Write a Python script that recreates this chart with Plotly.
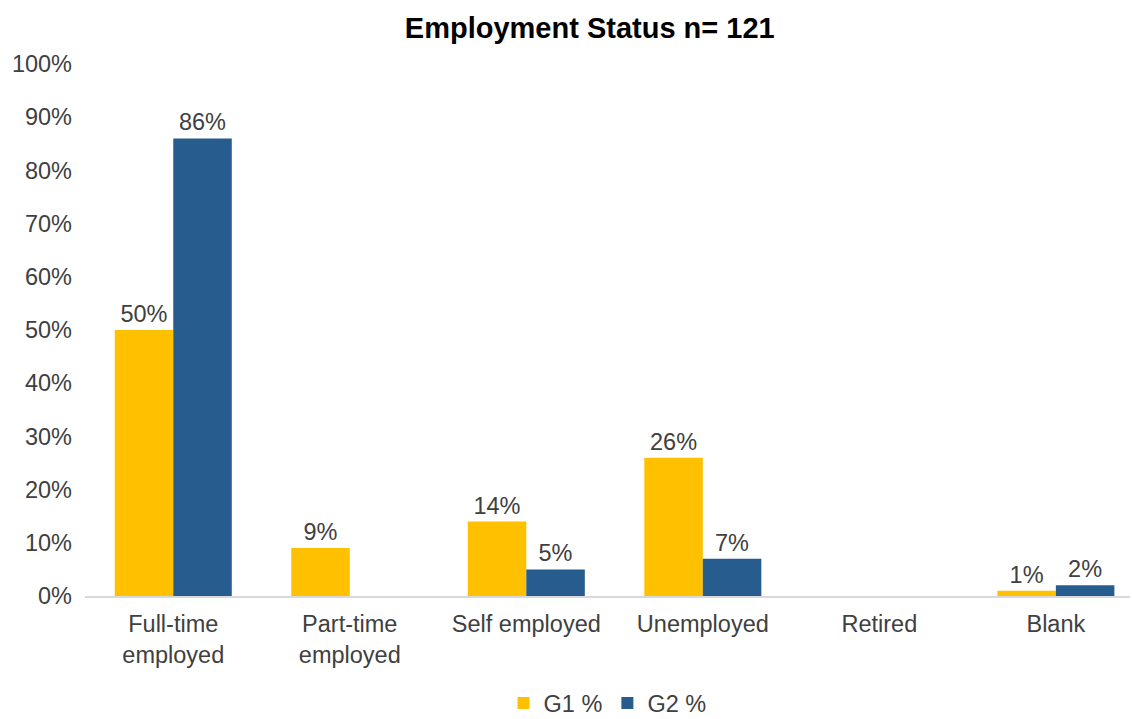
import plotly.graph_objects as go

categories = ["Full-time<br>employed", "Part-time<br>employed", "Self employed",
              "Unemployed", "Retired", "Blank"]
g1_pct = [50, 9, 14, 26, None, 1]
g2_pct = [86, None, 5, 7, None, 2]

y_ticks = list(range(0, 101, 10))
# pad with figure spaces so the right-aligned labels line up on the left
y_ticktext = [("\u2007" * (3 - len(str(v)))) + f"{v}%" for v in y_ticks]

FONT = "Liberation Sans, Arial, sans-serif"
TEXT_GREY = "#404040"
FS = 23.5


def pct_labels(values):
    return ["" if v is None else f"{v}%" for v in values]


fig = go.Figure()
for name, vals, color in [("G1 %", g1_pct, "#FFC000"), ("G2 %", g2_pct, "#265D8E")]:
    fig.add_trace(go.Bar(
        name=name, x=categories, y=vals,
        marker=dict(color=color, line=dict(width=0)),
        text=pct_labels(vals), textposition="outside", cliponaxis=False,
        constraintext="none", hoverinfo="x+y",
        textfont=dict(size=FS, color=TEXT_GREY, family=FONT),
    ))

fig.update_layout(
    width=1132, height=719,
    margin=dict(l=85, r=2, t=64, b=123, autoexpand=False),
    paper_bgcolor="white", plot_bgcolor="white",
    barmode="group", bargap=0.337, bargroupgap=0,
    font=dict(family=FONT, size=FS, color=TEXT_GREY),
    title=dict(text="<b>Employment Status n= 121</b>", x=0.483, xref="paper",
               xanchor="center", y=0.961, yanchor="middle",
               font=dict(size=29, color="#000000", family=FONT)),
    xaxis=dict(range=[-0.5, 5.42], showline=True, linecolor="#D9D9D9", linewidth=2,
               showgrid=False, ticks="", tickfont=dict(size=FS, color=TEXT_GREY),
               ticklabelstandoff=6),
    yaxis=dict(range=[0, 100], tickvals=y_ticks, ticktext=y_ticktext,
               showgrid=False, zeroline=False, showline=False, ticks="",
               ticklabelstandoff=12, tickfont=dict(size=FS, color=TEXT_GREY)),
    legend=dict(orientation="h", x=0.5, xanchor="center",
                yref="container", y=0.022, yanchor="middle",
                font=dict(size=FS, color=TEXT_GREY), traceorder="normal",
                itemwidth=30),
    showlegend=True,
)

fig.write_html("out.html")
